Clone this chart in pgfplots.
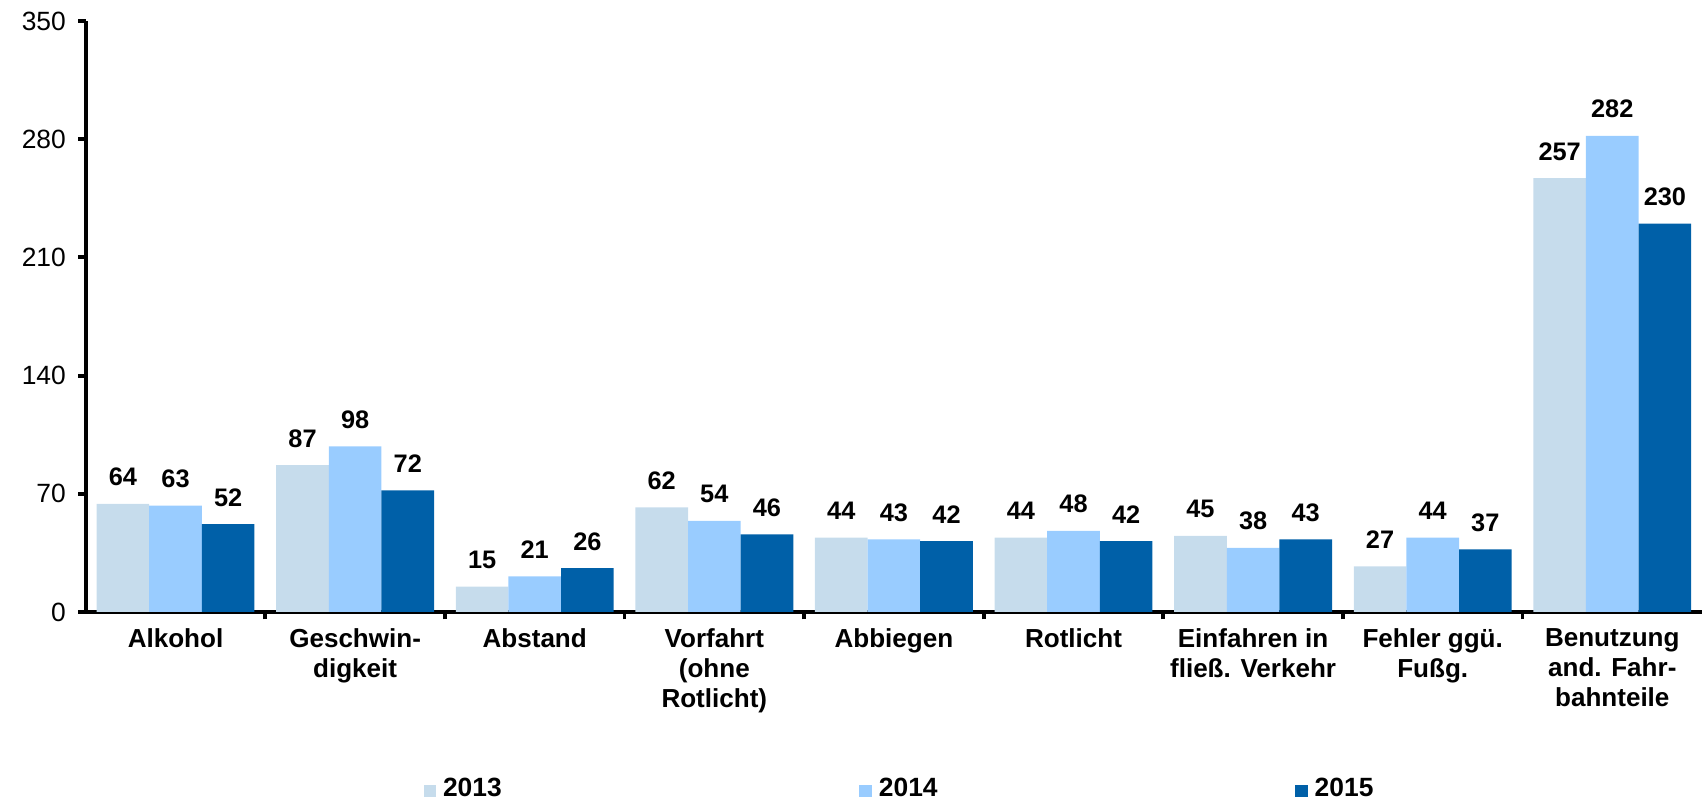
\documentclass[border=0pt]{standalone}
\usepackage{fontspec}
\setmainfont{Liberation Sans}
\usepackage{pgfplots}
\pgfplotsset{compat=1.18}

\definecolor{c2013}{RGB}{198,220,236}
\definecolor{c2014}{RGB}{153,204,255}
\definecolor{c2015}{RGB}{0,96,168}

\begin{document}
\begin{tikzpicture}
\begin{axis}[
  scale only axis,
  width=16.14cm, height=5.9cm,
  ybar=0pt, bar width=0.293,
  xmin=-0.5, xmax=8.5,
  ymin=0, ymax=350,
  axis x line*=bottom, axis y line*=left,
  axis line style={line width=1.1pt},
  every tick/.style={black, line width=1.1pt},
  tick align=outside,
  major tick length=0.75mm,
  ytick={0,70,...,350},
  /pgf/number format/assume math mode=true,
  yticklabel style={font=\fontsize{7.5}{9}\selectfont, text width=5.4mm, align=right},
  xtick={0.5,1.5,...,7.5},
  xticklabels={},
  extra x ticks={0,...,8},
  extra x tick labels={Alkohol, {Geschwin-\\digkeit}, Abstand, {Vorfahrt\\(ohne\\Rotlicht)}, Abbiegen, Rotlicht, {Einfahren in\\fließ. Verkehr}, {Fehler ggü.\\Fußg.}, {Benutzung\\and. Fahr-\\bahnteile}},
  extra x tick style={major tick length=0pt, tick label style={align=center, font=\bfseries\fontsize{7.4}{8.5}\selectfont, yshift=-0.4mm}},
  nodes near coords,
  every node near coord/.append style={font=\bfseries\fontsize{7.2}{8}\selectfont, black, yshift=1.5pt},
  legend columns=3,
  legend style={draw=none, at={(0.505,-0.322)}, anchor=south,
    inner sep=0pt, nodes={inner ysep=0pt},
    font=\bfseries\fontsize{7.5}{9}\selectfont,
    /tikz/every even column/.append style={column sep=35mm}},
  legend image code/.code={\fill[#1, draw=none] (0mm,-0.75mm) rectangle (1.25mm,0.5mm);},
]
\addplot[fill=c2013, draw=none] coordinates {(0,64) (1,87) (2,15) (3,62) (4,44) (5,44) (6,45) (7,27) (8,257)};
\addplot[fill=c2014, draw=none] coordinates {(0,63) (1,98) (2,21) (3,54) (4,43) (5,48) (6,38) (7,44) (8,282)};
\addplot[fill=c2015, draw=none] coordinates {(0,52) (1,72) (2,26) (3,46) (4,42) (5,42) (6,43) (7,37) (8,230)};
\legend{2013, 2014, 2015}
\end{axis}
\end{tikzpicture}
\end{document}
